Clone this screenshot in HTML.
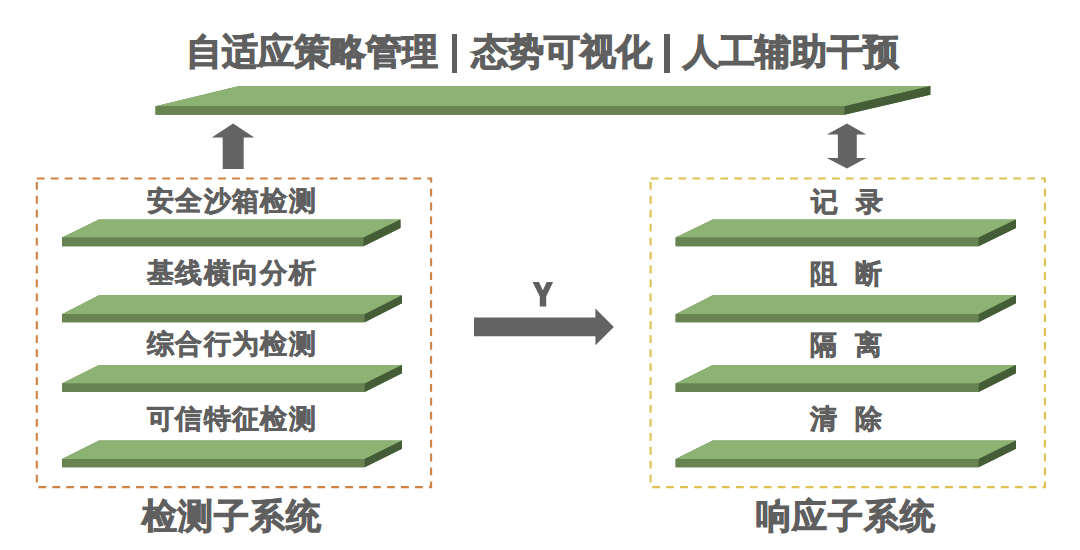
<!DOCTYPE html>
<html><head><meta charset="utf-8">
<style>
html,body{margin:0;padding:0;background:#fff;}
body{width:1080px;height:550px;position:relative;overflow:hidden;font-family:"Liberation Sans",sans-serif;}
svg{position:absolute;left:0;top:0;}
.t{position:absolute;white-space:nowrap;font-weight:bold;color:#5f5f5f;line-height:1;-webkit-text-stroke:0.7px #5f5f5f;}
.title{font-size:35.6px;top:35px;-webkit-text-stroke:1.3px #5f5f5f;}
.bar{position:absolute;background:#5f5f5f;top:34px;height:38.5px;width:5.4px;}
.lab{font-size:27px;letter-spacing:1.4px;-webkit-text-stroke:0.6px #5f5f5f;}
.sub{font-size:35px;letter-spacing:1.0px;top:497.8px;-webkit-text-stroke:1.0px #5f5f5f;}
</style></head>
<body>
<svg width="1080" height="550" viewBox="0 0 1080 550">
<g><polygon points="155.5,106.2 239.2,86 930.4,86 930.4,94.7 844.5,114.7 155.5,114.7" fill="#678352"/><polygon points="155.5,106.2 239.2,86 930.4,86 844.5,106.2" fill="#8db374"/><polygon points="155.5,106.2 844.5,106.2 844.5,114.7 155.5,114.7" fill="#678352"/><polygon points="844.5,106.2 930.4,86 930.4,94.7 844.5,114.7" fill="#455d37"/></g>
<g><polygon points="62,237.6 99,219.4 400.5,219.4 400.5,228.1 363.5,246.3 62,246.3" fill="#678352"/><polygon points="62,237.6 99,219.4 400.5,219.4 363.5,237.6" fill="#8db374"/><polygon points="62,237.6 363.5,237.6 363.5,246.3 62,246.3" fill="#678352"/><polygon points="363.5,237.6 400.5,219.4 400.5,228.1 363.5,246.3" fill="#455d37"/></g>
<g><polygon points="62,314.2 99,295.3 402,295.3 402,303.3 364.7,322.2 62,322.2" fill="#678352"/><polygon points="62,314.2 99,295.3 402,295.3 364.7,314.2" fill="#8db374"/><polygon points="62,314.2 364.7,314.2 364.7,322.2 62,322.2" fill="#678352"/><polygon points="364.7,314.2 402,295.3 402,303.3 364.7,322.2" fill="#455d37"/></g>
<g><polygon points="62,383.6 99,365 402,365 402,373.3 364.7,391.9 62,391.9" fill="#678352"/><polygon points="62,383.6 99,365 402,365 364.7,383.6" fill="#8db374"/><polygon points="62,383.6 364.7,383.6 364.7,391.9 62,391.9" fill="#678352"/><polygon points="364.7,383.6 402,365 402,373.3 364.7,391.9" fill="#455d37"/></g>
<g><polygon points="62,459 99,440.6 402,440.6 402,448.8 364.7,467.2 62,467.2" fill="#678352"/><polygon points="62,459 99,440.6 402,440.6 364.7,459" fill="#8db374"/><polygon points="62,459 364.7,459 364.7,467.2 62,467.2" fill="#678352"/><polygon points="364.7,459 402,440.6 402,448.8 364.7,467.2" fill="#455d37"/></g>
<g><polygon points="675.6,237.6 712.7,219.4 1016,219.4 1016,228.1 978.6,246.3 675.6,246.3" fill="#678352"/><polygon points="675.6,237.6 712.7,219.4 1016,219.4 978.6,237.6" fill="#8db374"/><polygon points="675.6,237.6 978.6,237.6 978.6,246.3 675.6,246.3" fill="#678352"/><polygon points="978.6,237.6 1016,219.4 1016,228.1 978.6,246.3" fill="#455d37"/></g>
<g><polygon points="675.6,314.2 712.7,295.3 1016,295.3 1016,303.3 978.6,322.2 675.6,322.2" fill="#678352"/><polygon points="675.6,314.2 712.7,295.3 1016,295.3 978.6,314.2" fill="#8db374"/><polygon points="675.6,314.2 978.6,314.2 978.6,322.2 675.6,322.2" fill="#678352"/><polygon points="978.6,314.2 1016,295.3 1016,303.3 978.6,322.2" fill="#455d37"/></g>
<g><polygon points="675.6,383.6 712.7,365 1016,365 1016,373.3 978.6,391.9 675.6,391.9" fill="#678352"/><polygon points="675.6,383.6 712.7,365 1016,365 978.6,383.6" fill="#8db374"/><polygon points="675.6,383.6 978.6,383.6 978.6,391.9 675.6,391.9" fill="#678352"/><polygon points="978.6,383.6 1016,365 1016,373.3 978.6,391.9" fill="#455d37"/></g>
<g><polygon points="675.6,459 712.7,440.6 1016,440.6 1016,448.8 978.6,467.2 675.6,467.2" fill="#678352"/><polygon points="675.6,459 712.7,440.6 1016,440.6 978.6,459" fill="#8db374"/><polygon points="675.6,459 978.6,459 978.6,467.2 675.6,467.2" fill="#678352"/><polygon points="978.6,459 1016,440.6 1016,448.8 978.6,467.2" fill="#455d37"/></g>

<rect x="36.8" y="178.5" width="394.3" height="308.6" fill="none" stroke="#cf8243" stroke-width="2.1" stroke-dasharray="7.8 6.146"/>
<rect x="650.6" y="178.5" width="394.3" height="308.6" fill="none" stroke="#e0c150" stroke-width="2.1" stroke-dasharray="7.8 6.146"/>
<polygon points="233.1,123.5 254.3,137.4 243.7,137.4 243.7,169 222.7,169 222.7,137.4 211.8,137.4" fill="#636363"/>
<polygon points="847,123.5 866.3,134.6 856.8,134.6 856.8,158.1 866.3,158.1 847,168.5 826.8,158.1 837.9,158.1 837.9,134.6 826.8,134.6" fill="#636363"/>
<polygon points="532.6,281.9 539,281.9 542.85,290.2 546.7,281.9 553.1,281.9 546.2,296.4 546.2,306.6 539.8,306.6 539.8,296.4" fill="#5f5f5f"/>
<polygon points="474,317.4 595.4,317.4 595.4,308.4 613.9,326.9 595.4,345.3 595.4,336.3 474,336.3" fill="#636363"/>
</svg>

<div class="t title" style="left:185.65px;">自适应策略管理</div>
<div class="bar" style="left:451.8px;"></div>
<div class="t title" style="left:471.5px;">态势可视化</div>
<div class="bar" style="left:664.3px;"></div>
<div class="t title" style="left:683.3px;">人工辅助干预</div>

<div class="t lab" style="left:146.75px;top:188.35px;">安全沙箱检测</div>
<div class="t lab" style="left:146.85px;top:260.1px;">基线横向分析</div>
<div class="t lab" style="left:146.9px;top:330.55px;">综合行为检测</div>
<div class="t lab" style="left:146.9px;top:405.7px;">可信特征检测</div>

<div class="t lab" style="left:810.9px;top:188.6px;">记<span style="margin-left:16.5px">录</span></div>
<div class="t lab" style="left:810px;top:261px;">阻<span style="margin-left:16.5px">断</span></div>
<div class="t lab" style="left:810.2px;top:332.15px;">隔<span style="margin-left:16.5px">离</span></div>
<div class="t lab" style="left:810.2px;top:406.15px;">清<span style="margin-left:16.5px">除</span></div>



<div class="t sub" style="left:142px;">检测子系统</div>
<div class="t sub" style="left:755.6px;">响应子系统</div>
</body></html>
